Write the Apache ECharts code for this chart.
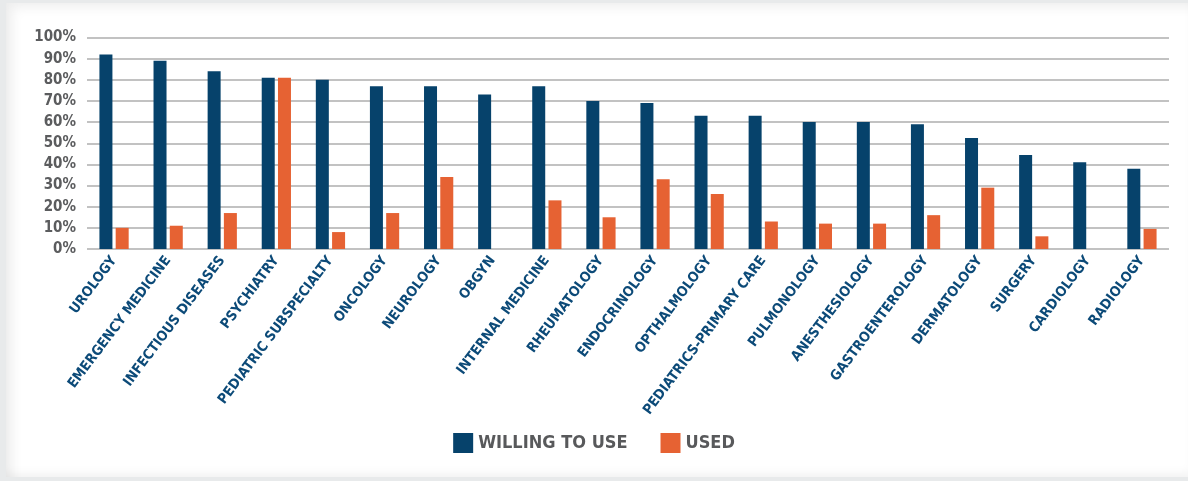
<!DOCTYPE html>
<html>
<head>
<meta charset="utf-8">
<script src="https://cdn.jsdelivr.net/npm/echarts@6/dist/echarts.min.js"></script>
<style>
  html, body { margin: 0; padding: 0; width: 1188px; height: 481px; overflow: hidden; background: #e8eaeb; }
  #card { position: absolute; left: 6px; top: 3px; width: 1182px; height: 474px; background: #ffffff;
          box-shadow: inset 10px 8px 12px -4px rgba(0,0,0,0.07), inset 0 -8px 10px -4px rgba(0,0,0,0.05); }
  #chart { position: absolute; left: 0; top: 0; width: 1188px; height: 481px; }
</style>
</head>
<body>
<div id="card"></div>
<div id="chart"></div>
<script>
const categories = ["UROLOGY", "EMERGENCY MEDICINE", "INFECTIOUS DISEASES", "PSYCHIATRY", "PEDIATRIC SUBSPECIALTY",
  "ONCOLOGY", "NEUROLOGY", "OBGYN", "INTERNAL MEDICINE", "RHEUMATOLOGY", "ENDOCRINOLOGY", "OPTHALMOLOGY",
  "PEDIATRICS-PRIMARY CARE", "PULMONOLOGY", "ANESTHESIOLOGY", "GASTROENTEROLOGY", "DERMATOLOGY", "SURGERY",
  "CARDIOLOGY", "RADIOLOGY"];
const willingToUse = [92, 89, 84, 81, 80, 77, 77, 73, 77, 70, 69, 63, 63, 60, 60, 59, 52.5, 44.5, 41, 38];
const used = [10, 11, 17, 81, 8, 17, 34, null, 23, 15, 33, 26, 13, 12, 12, 16, 29, 6, null, 9.5];
const seriesNames = ["WILLING TO USE", "USED"];

const FONT = '"DejaVu Sans Condensed", "Liberation Sans Narrow", sans-serif';
const chart = echarts.init(document.getElementById('chart'), null, { renderer: 'canvas' });
chart.setOption({
  backgroundColor: 'transparent',
  animation: false,
  grid: { left: 87, right: 19, top: 37.5, bottom: 232, containLabel: false },
  legend: {
    data: seriesNames,
    top: 428, left: 'center',
    icon: 'rect', itemWidth: 20, itemHeight: 20, itemGap: 33,
    textStyle: { fontFamily: FONT, fontWeight: 'bold', fontSize: 18, color: '#58595b', padding: [0, 0, 0, 0] }
  },
  xAxis: {
    type: 'category',
    data: categories,
    axisLine: { show: false },
    axisTick: { show: false },
    axisLabel: {
      interval: 0, rotate: 53, margin: 9,
      fontFamily: FONT, fontWeight: 'bold', fontSize: 14, color: '#0c4a78'
    }
  },
  yAxis: {
    type: 'value', min: 0, max: 100, interval: 10,
    axisLine: { show: false },
    axisTick: { show: false },
    axisLabel: {
      formatter: '{value}%', margin: 11,
      fontFamily: FONT, fontWeight: 'bold', fontSize: 15, color: '#5b5c5e'
    },
    splitLine: { lineStyle: { color: '#c2c2c2', width: 2 } }
  },
  series: [
    { name: seriesNames[0], type: 'bar', data: willingToUse, barWidth: 13, barGap: '25%',
      itemStyle: { color: '#06426b' } },
    { name: seriesNames[1], type: 'bar', data: used, barWidth: 13,
      itemStyle: { color: '#e66233' } }
  ]
});
</script>
</body>
</html>
